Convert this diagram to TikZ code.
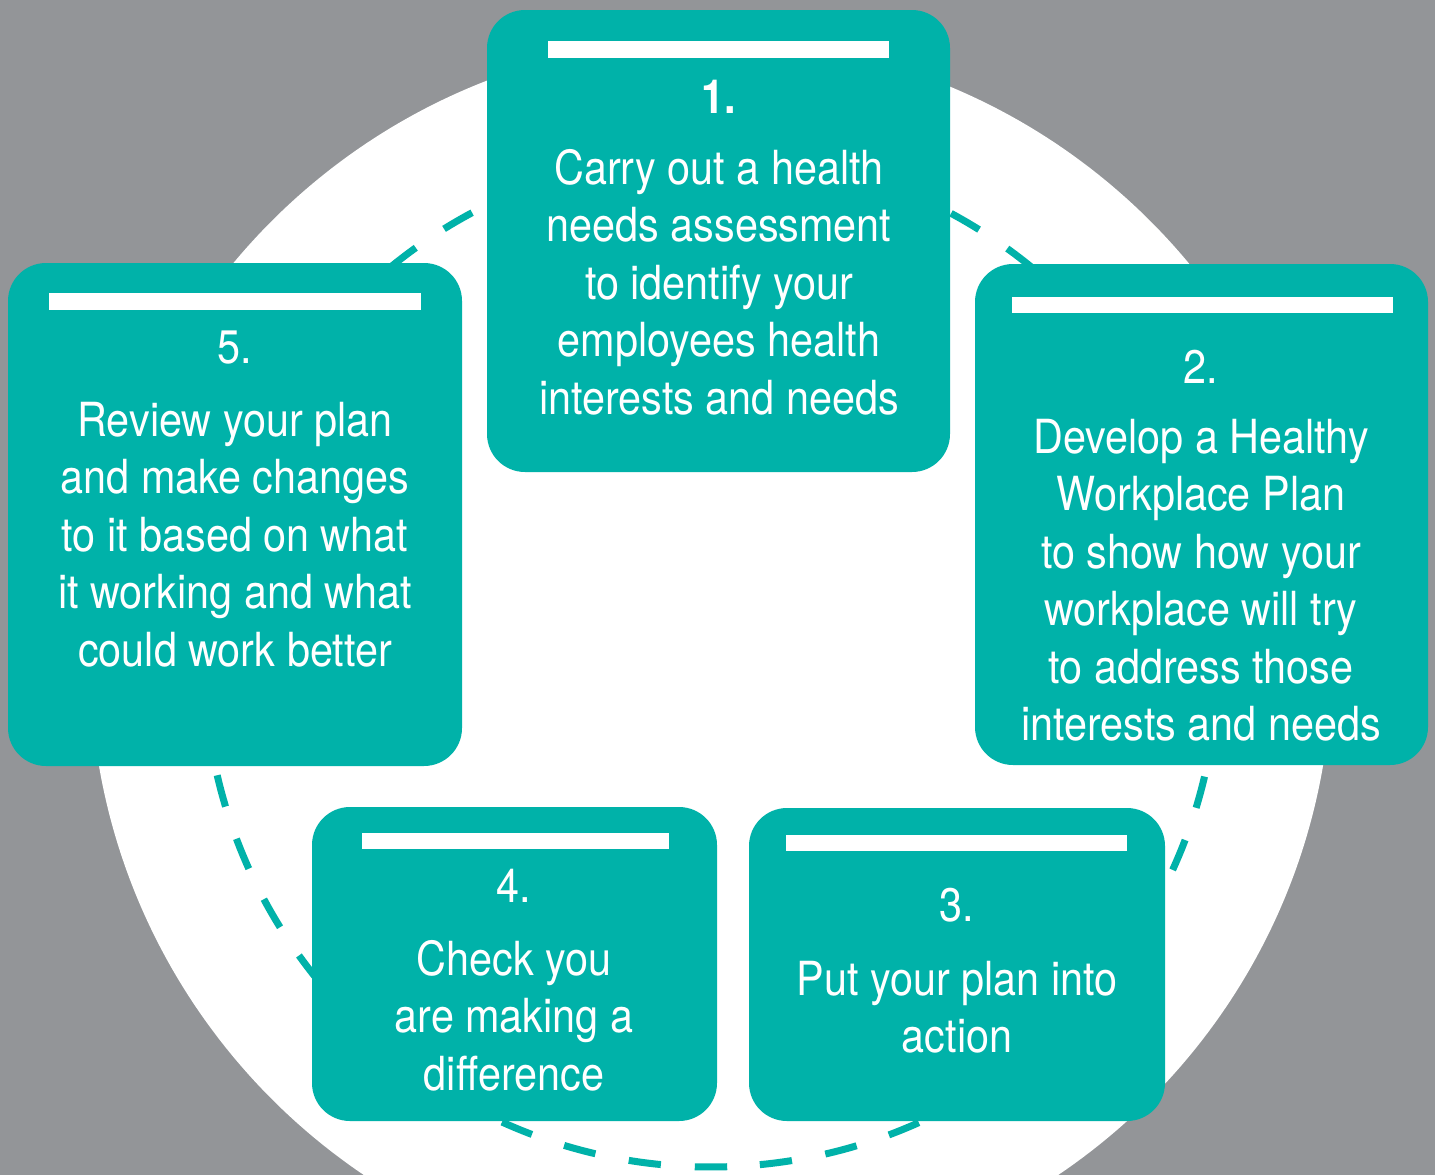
\documentclass[tikz,border=0pt]{standalone}
\usepackage{fontspec}
\setmainfont{TeX Gyre Heros}[FakeStretch=0.88]
\usepackage{tikz}
\usetikzlibrary{positioning}

\definecolor{bggray}{RGB}{147,149,152}
\definecolor{stepteal}{RGB}{0,178,169}

\begin{document}
\begin{tikzpicture}[x=1pt, y=-1pt,
		stepbox/.style={fill=stepteal, rounded corners=38pt, inner sep=0pt},
		stepbar/.style={fill=white},
		stepnum/.style={anchor=base, inner sep=0pt, text=white, font=\fontsize{47}{57.5}\selectfont},
		steptext/.style={anchor=base, inner sep=0pt, text=white, align=center, font=\fontsize{47}{57.5}\selectfont},
		dashring/.style={draw=stepteal, line width=7pt, dash pattern=on 32.4pt off 34pt}]
				% Background
				\useasboundingbox (0,0) rectangle (1435,1175);
				\clip (0,0) rectangle (1435,1175);
				\fill[bggray] (0,0) rectangle (1435,1175);
				\coordinate (ring) at (711,660);
				\fill[white] (ring) circle[radius=621];
				\draw[dashring] (ring) ++(88.17:507) arc[start angle=88.17, delta angle=360, radius=507];
				
				% Boxes
				\node[stepbox, minimum width=463pt, minimum height=462pt] (b1) at (718.5,241) {};
				\node[stepbox, minimum width=453pt, minimum height=501pt] (b2) at (1201.5,514.5) {};
				\node[stepbox, minimum width=416pt, minimum height=313pt] (b3) at (957,964.5) {};
				\node[stepbox, minimum width=405pt, minimum height=314pt] (b4) at (514.5,964) {};
				\node[stepbox, minimum width=454pt, minimum height=503pt] (b5) at (235,514.5) {};
				
				% Bars
				\fill[stepbar] (548,41) rectangle (889,58);
				\fill[stepbar] (1012,297) rectangle (1393,313);
				\fill[stepbar] (786,835) rectangle (1127,851);
				\fill[stepbar] (362,833) rectangle (669,849);
				\fill[stepbar] (49,293) rectangle (421,310);
				
				% Texts (base = last line)
				\node[stepnum] (n1) at (719,113) {\bfseries 1.};
				\node[steptext] (t1) at (719,414) {Carry out a health\\needs assessment\\to identify your\\employees health\\interests and needs};
				
				\node[stepnum] (n2) at (1201,383) {2.};
				\node[steptext] (t2) at (1201,740.5) {Develop a Healthy\\Workplace Plan\\to show how your\\workplace will try\\to address those\\interests and needs};
				
				\node[stepnum] (n3) at (957,921) {3.};
				\node[steptext] (t3) at (957,1052.5) {Put your plan into\\action};
				
				\node[stepnum] (n4) at (514,902) {4.};
				\node[steptext] (t4) at (514,1090) {Check you\\are making a\\difference};
				
				\node[stepnum] (n5) at (235,363) {5.};
				\node[steptext] (t5) at (235,666) {Review your plan\\and make changes\\to it based on what\\it working and what\\could work better};
\end{tikzpicture}
\end{document}
